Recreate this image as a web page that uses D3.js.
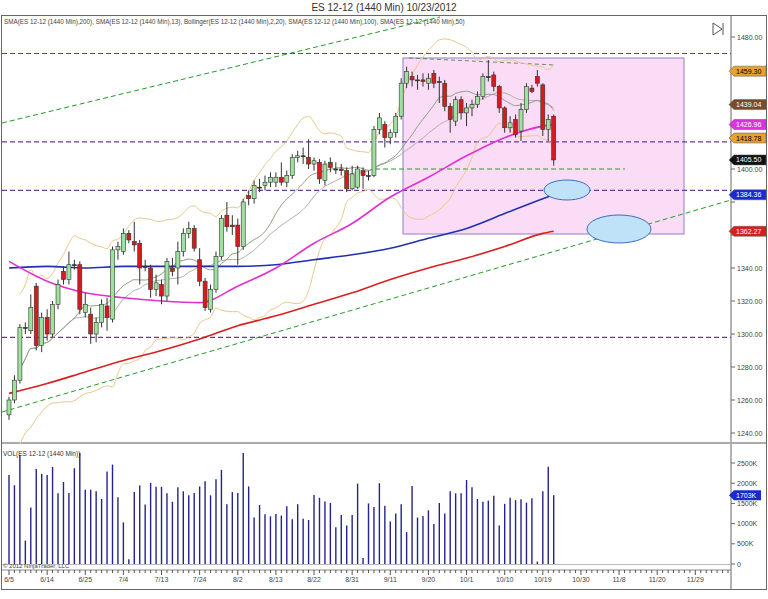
<!DOCTYPE html>
<html><head><meta charset="utf-8">
<script src="https://cdn.jsdelivr.net/npm/d3@7"></script>
<style>body{margin:0;background:#fff}svg{font-family:Arial,"Liberation Sans",sans-serif}</style>
</head><body><svg id="c" width="768" height="599"></svg>
<script>
const opens=[1251,1260,1272,1304,1302,1329,1293,1310,1300,1318,1338,1333,1342,1342,1313,1312,1300,1307,1317,1309,1351,1350,1361,1356,1355,1341,1340,1327,1330,1323,1340,1340,1350,1361,1364,1345,1332,1315,1327,1347,1372,1366,1366,1353,1384,1382,1389,1390,1392,1392,1395,1392,1396,1407,1408,1407,1403,1404,1393,1404,1400,1400,1399,1388,1389,1399,1396,1396,1424,1427,1419,1422,1432,1452,1456,1454,1454,1452,1458,1453,1452,1438,1429,1442,1434,1437,1439,1444,1456,1457,1450,1437,1425,1430,1423,1436,1449,1456,1451,1424,1432];
const closes=[1260,1272,1304,1304,1316,1293,1310,1300,1318,1330,1333,1342,1342,1315,1318,1300,1307,1318,1310,1351,1353,1361,1357,1354,1340,1341,1327,1331,1323,1344,1338,1350,1361,1364,1352,1332,1316,1327,1347,1370,1365,1365,1353,1380,1382,1390,1389,1392,1395,1395,1392,1396,1407,1408,1408,1403,1405,1394,1403,1401,1400,1399,1388,1397,1400,1396,1396,1424,1431,1419,1422,1432,1452,1459,1454,1454,1453,1455,1452,1453,1438,1430,1442,1434,1437,1439,1444,1456,1456,1450,1437,1425,1428,1421,1436,1450,1447,1452,1424,1430,1405.5];
const highs=[1262,1275,1306,1307,1324,1331,1313,1315,1320,1333,1341,1350,1345,1344,1325,1316,1310,1321,1322,1353,1356,1364,1363,1368,1357,1345,1342,1336,1333,1346,1346,1356,1364,1368,1366,1352,1334,1330,1350,1372,1380,1372,1370,1382,1387,1393,1394,1396,1398,1398,1404,1399,1409,1411,1413,1418,1407,1406,1405,1407,1404,1403,1401,1402,1402,1401,1399,1426,1434,1429,1424,1434,1455,1462,1459,1457,1458,1458,1460,1456,1454,1440,1444,1444,1440,1442,1447,1458,1466,1459,1451,1438,1432,1433,1440,1452,1451,1460,1452,1433,1433];
const lows=[1248,1258,1270,1300,1300,1290,1289,1296,1298,1315,1330,1330,1339,1312,1310,1294,1295,1304,1302,1307,1345,1348,1355,1350,1330,1338,1322,1323,1318,1320,1335,1330,1347,1358,1350,1329,1314,1313,1325,1345,1362,1360,1342,1351,1378,1379,1386,1387,1389,1389,1390,1389,1394,1404,1403,1400,1399,1391,1390,1398,1397,1396,1386,1387,1388,1388,1393,1395,1421,1413,1415,1419,1430,1449,1450,1448,1450,1448,1449,1440,1435,1422,1426,1430,1426,1432,1437,1442,1453,1447,1434,1422,1422,1419,1417,1434,1446,1450,1420,1417,1402];
const volumes=[2200,1950,2700,580,1400,2350,2230,2200,2400,1750,2030,1760,2370,2750,1840,1840,1800,1610,2290,2460,1650,1030,120,1780,1940,1470,2010,1910,1910,1750,1540,1900,1800,1700,1760,1920,2050,1700,2100,2330,1480,1780,1760,2750,1920,1150,1460,1230,1180,1240,1200,1430,1110,1480,1120,1090,1710,1640,1550,1510,910,1210,950,1210,1990,150,1500,1410,2000,1440,1050,1250,1480,790,1930,1150,1190,1330,990,1510,1250,1800,1750,1750,2080,1900,1610,1540,1570,1690,950,1490,1640,1580,1600,1520,1630,60,1800,2410,1703];
const maIdx=[0,7,14,21,28,35,42,49,56,63,70,77,84,91,98,100];
const sma100=[1340,1341,1340,1341,1341,1341,1341,1342,1345,1348,1352,1358,1364,1373,1382,1384.36];
const sma200=[1264,1270,1277,1284,1290,1297,1305,1311,1318,1325,1333,1340,1346,1353,1361,1362.27];
const sma50=[1344,1332,1325,1322,1320,1319,1329,1340,1355,1367,1383,1395,1408,1419,1426,1426.96];
const tickIdx=[0,7,14,21,28,35,42,49,56,63,70,77,84,91,98,105,112,119,126];
const tickLabels=["6/5","6/14","6/25","7/4","7/13","7/24","8/2","8/13","8/22","8/31","9/11","9/20","10/1","10/10","10/19","10/30","11/8","11/20","11/29"];
const hLines=[1470,1416.4,1387,1298];
const priceTicks=[1240,1260,1280,1300,1320,1340,1360,1380,1400,1420,1440,1460,1480];
const volTicks=[0,500,1000,1500,2000,2500];
const tags=[{v:1459.30,c:"#e8a030",t:"#000"},{v:1439.04,c:"#7a4a2a",t:"#fff"},{v:1426.96,c:"#e030e0",t:"#fff"},{v:1418.78,c:"#e8a030",t:"#000"},{v:1405.50,c:"#111",t:"#fff"},{v:1384.36,c:"#1a2ad0",t:"#fff"},{v:1362.27,c:"#d82020",t:"#fff"}];

const svg=d3.select("#c");
const x=d3.scaleLinear().domain([0,132]).range([9,728]);
const y=d3.scaleLinear().domain([1240,1480]).range([433,37]);
const yv=d3.scaleLinear().domain([0,2500]).range([564,463]);
const R=731;
svg.append("rect").attr("x",1.5).attr("y",15.5).attr("width",765).attr("height",574).attr("fill","none").attr("stroke","#666");
svg.append("line").attr("x1",R).attr("x2",R).attr("y1",16).attr("y2",589).attr("stroke","#666");
svg.append("line").attr("x1",2).attr("x2",766).attr("y1",443).attr("y2",443).attr("stroke","#aaa").attr("stroke-width",2);
svg.append("line").attr("x1",2).attr("x2",R).attr("y1",570).attr("y2",570).attr("stroke","#888");
svg.append("text").attr("x",384).attr("y",11).attr("text-anchor","middle").attr("font-size",10).attr("fill","#333").text("ES 12-12 (1440 Min)  10/23/2012");
svg.append("text").attr("x",4).attr("y",24).attr("font-size",6.3).attr("fill","#444").text("SMA(ES 12-12 (1440 Min),200), SMA(ES 12-12 (1440 Min),13), Bollinger(ES 12-12 (1440 Min),2,20), SMA(ES 12-12 (1440 Min),100), SMA(ES 12-12 (1440 Min),50)");
svg.append("path").attr("d","M713,23 L713,35 L722,29 Z M723,23 L723,35").attr("fill","none").attr("stroke","#555");
const g=svg.append("g");
g.append("rect").attr("x",403).attr("y",58).attr("width",281).attr("height",176).attr("fill","#fbdcf6").attr("stroke","#8a80c8");
g.append("line").attr("x1",2).attr("y1",123).attr("x2",440).attr("y2",17).attr("stroke","#2a9a2a").attr("stroke-dasharray","5,3");
g.append("line").attr("x1",2).attr("y1",412).attr("x2",R).attr("y2",200).attr("stroke","#2a9a2a").attr("stroke-dasharray","5,3");
g.append("line").attr("x1",375).attr("y1",y(1400)).attr("x2",625).attr("y2",y(1400)).attr("stroke","#2a9a2a").attr("stroke-dasharray","5,3");
g.append("line").attr("x1",409).attr("y1",58).attr("x2",555).attr("y2",65).attr("stroke","#6a8a6a").attr("stroke-dasharray","4,3");
hLines.forEach(v=>g.append("line").attr("x1",2).attr("x2",R).attr("y1",y(v)).attr("y2",y(v)).attr("stroke","#6a3aa0").attr("stroke-dasharray","5,3").attr("stroke-width",1.2));
const sma=(n,i)=>{const s=Math.max(0,i-n+1);return d3.mean(closes.slice(s,i+1));};
const sd=(n,i)=>{const s=Math.max(0,i-n+1);return d3.deviation(closes.slice(s,i+1))||0;};
const idx=d3.range(2,closes.length);
const line=d3.line().x(d=>x(d[0])).y(d=>y(d[1])).curve(d3.curveMonotoneX);
g.append("path").attr("d",line(idx.map(i=>[i,sma(20,i)+2*sd(20,i)]))).attr("fill","none").attr("stroke","#e8c88a");
g.append("path").attr("d",line(idx.map(i=>[i,sma(20,i)-2*sd(20,i)]))).attr("fill","none").attr("stroke","#e8c88a");
g.append("path").attr("d",line(idx.map(i=>[i,sma(20,i)]))).attr("fill","none").attr("stroke","#b0b0a8");
g.append("path").attr("d",line(idx.map(i=>[i,sma(13,i)]))).attr("fill","none").attr("stroke","#8ca080");
const ma=(arr,c)=>g.append("path").attr("d",line(maIdx.map((d,i)=>[d,arr[i]]))).attr("fill","none").attr("stroke",c).attr("stroke-width",1.6);
ma(sma200,"#d82020");ma(sma100,"#2030b0");ma(sma50,"#e030d0");
g.append("ellipse").attr("cx",567).attr("cy",190).attr("rx",23).attr("ry",10).attr("fill","#bfe2f8").attr("stroke","#3a70c0");
g.append("ellipse").attr("cx",619).attr("cy",229).attr("rx",32).attr("ry",14).attr("fill","#bfe2f8").attr("stroke","#3a70c0");
closes.forEach((c,i)=>{const o=opens[i],cx=x(i);
 g.append("line").attr("x1",cx).attr("x2",cx).attr("y1",y(highs[i])).attr("y2",y(lows[i])).attr("stroke","#333");
 const t=y(Math.max(o,c)),b=y(Math.min(o,c));
 g.append("rect").attr("x",cx-2).attr("width",4).attr("y",t).attr("height",Math.max(1,b-t)).attr("fill",c>o?"#9ee29e":c<o?"#d41c1c":"#333").attr("stroke","#333").attr("stroke-width",0.6);
});
priceTicks.forEach(v=>{svg.append("line").attr("x1",R).attr("x2",R+4).attr("y1",y(v)).attr("y2",y(v)).attr("stroke","#666");
 if(tags.some(d=>Math.abs(y(d.v)-y(v))<9)) return;
 svg.append("text").attr("x",R+6).attr("y",y(v)+2.5).attr("font-size",7).attr("fill","#444").text(v.toFixed(2));});
tags.forEach(d=>{const yy=y(d.v);svg.append("path").attr("d",`M${R-2},${yy} L${R+3},${yy-5} L${R+35},${yy-5} L${R+35},${yy+5} L${R+3},${yy+5} Z`).attr("fill",d.c).attr("stroke","#555").attr("stroke-width",0.5);
 svg.append("text").attr("x",R+5).attr("y",yy+2.5).attr("font-size",7).attr("fill",d.t).text(d.v.toFixed(2));});
svg.append("text").attr("x",3).attr("y",456).attr("font-size",6.5).attr("fill","#333").text("VOL(ES 12-12 (1440 Min))");
volumes.forEach((v,i)=>svg.append("line").attr("x1",x(i)).attr("x2",x(i)).attr("y1",yv(0)).attr("y2",yv(v)).attr("stroke","#23238a").attr("stroke-width",1.4));
svg.append("line").attr("x1",2).attr("x2",R).attr("y1",yv(0)+0.5).attr("y2",yv(0)+0.5).attr("stroke","#bbb");
volTicks.forEach(v=>{svg.append("line").attr("x1",R).attr("x2",R+4).attr("y1",yv(v)).attr("y2",yv(v)).attr("stroke","#666");
 svg.append("text").attr("x",R+6).attr("y",yv(v)+2.5).attr("font-size",7).attr("fill","#444").text(v?v+"K":"0");});
{const yy=yv(1703);svg.append("path").attr("d",`M${R-2},${yy} L${R+3},${yy-5} L${R+30},${yy-5} L${R+30},${yy+5} L${R+3},${yy+5} Z`).attr("fill","#1a2ad0");
 svg.append("text").attr("x",R+5).attr("y",yy+2.5).attr("font-size",7).attr("fill","#fff").text("1703K");}
svg.append("text").attr("x",3).attr("y",568).attr("font-size",6).attr("fill","#444").text("© 2012 NinjaTrader, LLC");
d3.range(0,133).forEach(i=>svg.append("line").attr("x1",x(i)).attr("x2",x(i)).attr("y1",570).attr("y2",i%7==0?575:573).attr("stroke","#555"));
tickIdx.forEach((t,k)=>svg.append("text").attr("x",x(t)).attr("y",582).attr("text-anchor","middle").attr("font-size",7).attr("fill","#444").text(tickLabels[k]));
</script></body></html>
